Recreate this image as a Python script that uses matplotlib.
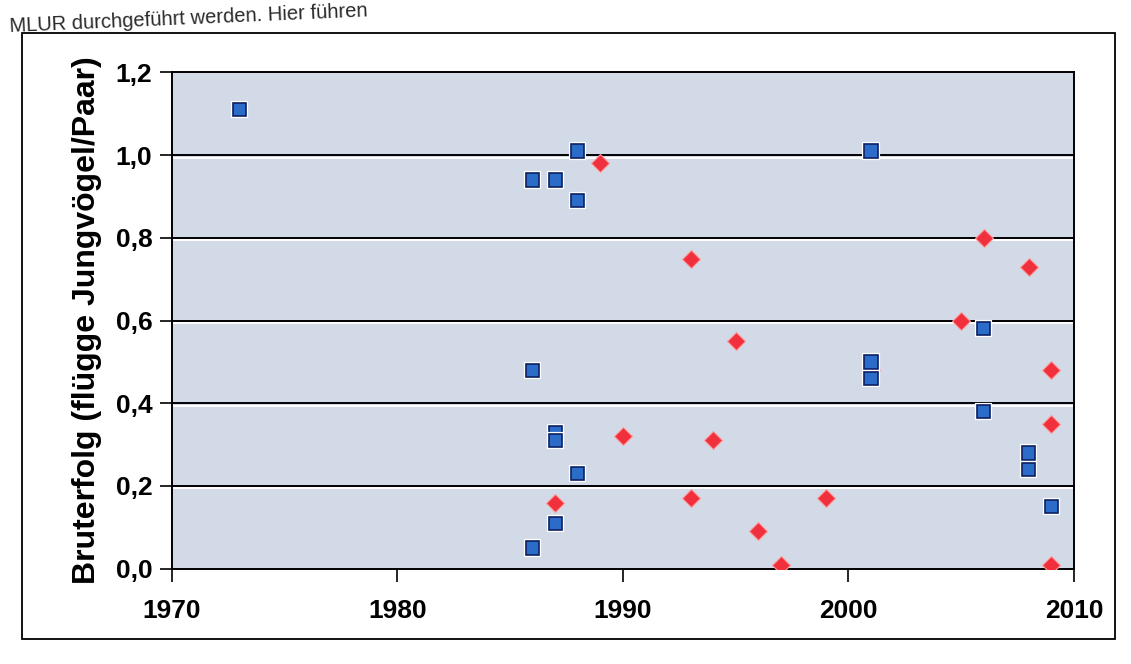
import matplotlib
matplotlib.use("Agg")
import matplotlib.pyplot as plt
import matplotlib.patheffects as pe
from matplotlib.patches import Rectangle

# Bruterfolg, two series (blue squares, red diamonds)
years_blue = [1973, 1986, 1987, 1988, 1988, 1986, 1987, 1987, 1988, 1987, 1986,
              2001, 2001, 2001, 2006, 2006, 2008, 2008, 2009]
vals_blue = [1.11, 0.94, 0.94, 1.01, 0.89, 0.48, 0.33, 0.31, 0.23, 0.11, 0.05,
             1.01, 0.50, 0.46, 0.58, 0.38, 0.28, 0.24, 0.15]

years_red = [1989, 1993, 1995, 1990, 1994, 1987, 1993, 1999, 1996, 1997,
             2001, 2005, 2006, 2008, 2009, 2009, 2009]
vals_red = [0.98, 0.75, 0.55, 0.32, 0.31, 0.16, 0.17, 0.17, 0.09, 0.01,
            0.48, 0.60, 0.80, 0.73, 0.48, 0.35, 0.01]

y_ticks = [0.0, 0.2, 0.4, 0.6, 0.8, 1.0, 1.2]
y_ticklabels = ["0,0", "0,2", "0,4", "0,6", "0,8", "1,0", "1,2"]
x_ticks = [1970, 1980, 1990, 2000, 2010]

plt.rcParams['font.family'] = ['Liberation Sans', 'DejaVu Sans']

fig = plt.figure(figsize=(11.31, 6.64), dpi=100)

# outer chart frame
fig.patches.append(Rectangle((0.0195, 0.038), 0.966, 0.912, transform=fig.transFigure,
                             fill=False, edgecolor="black", linewidth=1.3))
fig.text(0.008, 0.972, "MLUR durchgeführt werden. Hier führen", fontsize=14.5,
         color="#2a2a2a", rotation=2.5, va="center", ha="left")

ax = fig.add_axes([0.152, 0.1435, 0.7976, 0.7475])
ax.set_facecolor("#d2dae8")

ax.set_xlim(1970, 2010)
ax.set_ylim(0, 1.2)

# black gridlines with a thin white line below
for y in y_ticks[1:-1]:
    ax.axhline(y, color="black", linewidth=1.4, zorder=1,
               path_effects=[pe.SimpleLineShadow(offset=(0, -1.8), shadow_color="white", alpha=1),
                             pe.Normal()])

ax.plot(years_red, vals_red, linestyle="none", marker="D", markersize=9,
        markerfacecolor="#f0303c", markeredgecolor="#ff9a9a", markeredgewidth=0.8,
        zorder=3)
ax.plot(years_blue, vals_blue, linestyle="none", marker="s", markersize=9.5,
        markerfacecolor="#2b6cc9", markeredgecolor="#0c1f63", markeredgewidth=1.2,
        zorder=4, path_effects=[pe.withStroke(linewidth=3, foreground="white")])

for s in ax.spines.values():
    s.set_color("black")
    s.set_linewidth(1.4)

ax.set_yticks(y_ticks)
ax.set_yticklabels(y_ticklabels, fontsize=19, fontweight="bold")
ax.set_xticks(x_ticks)
ax.set_xticklabels([str(x) for x in x_ticks], fontsize=19, fontweight="bold")
ax.tick_params(axis="y", direction="out", length=9, width=1.2, pad=5)
ax.tick_params(axis="x", direction="out", length=9, width=1.2, pad=13)

ax.set_ylabel("Bruterfolg (flügge Jungvögel/Paar)", fontsize=23, fontweight="bold",
              labelpad=10)

fig.savefig("out.png", dpi=100)
